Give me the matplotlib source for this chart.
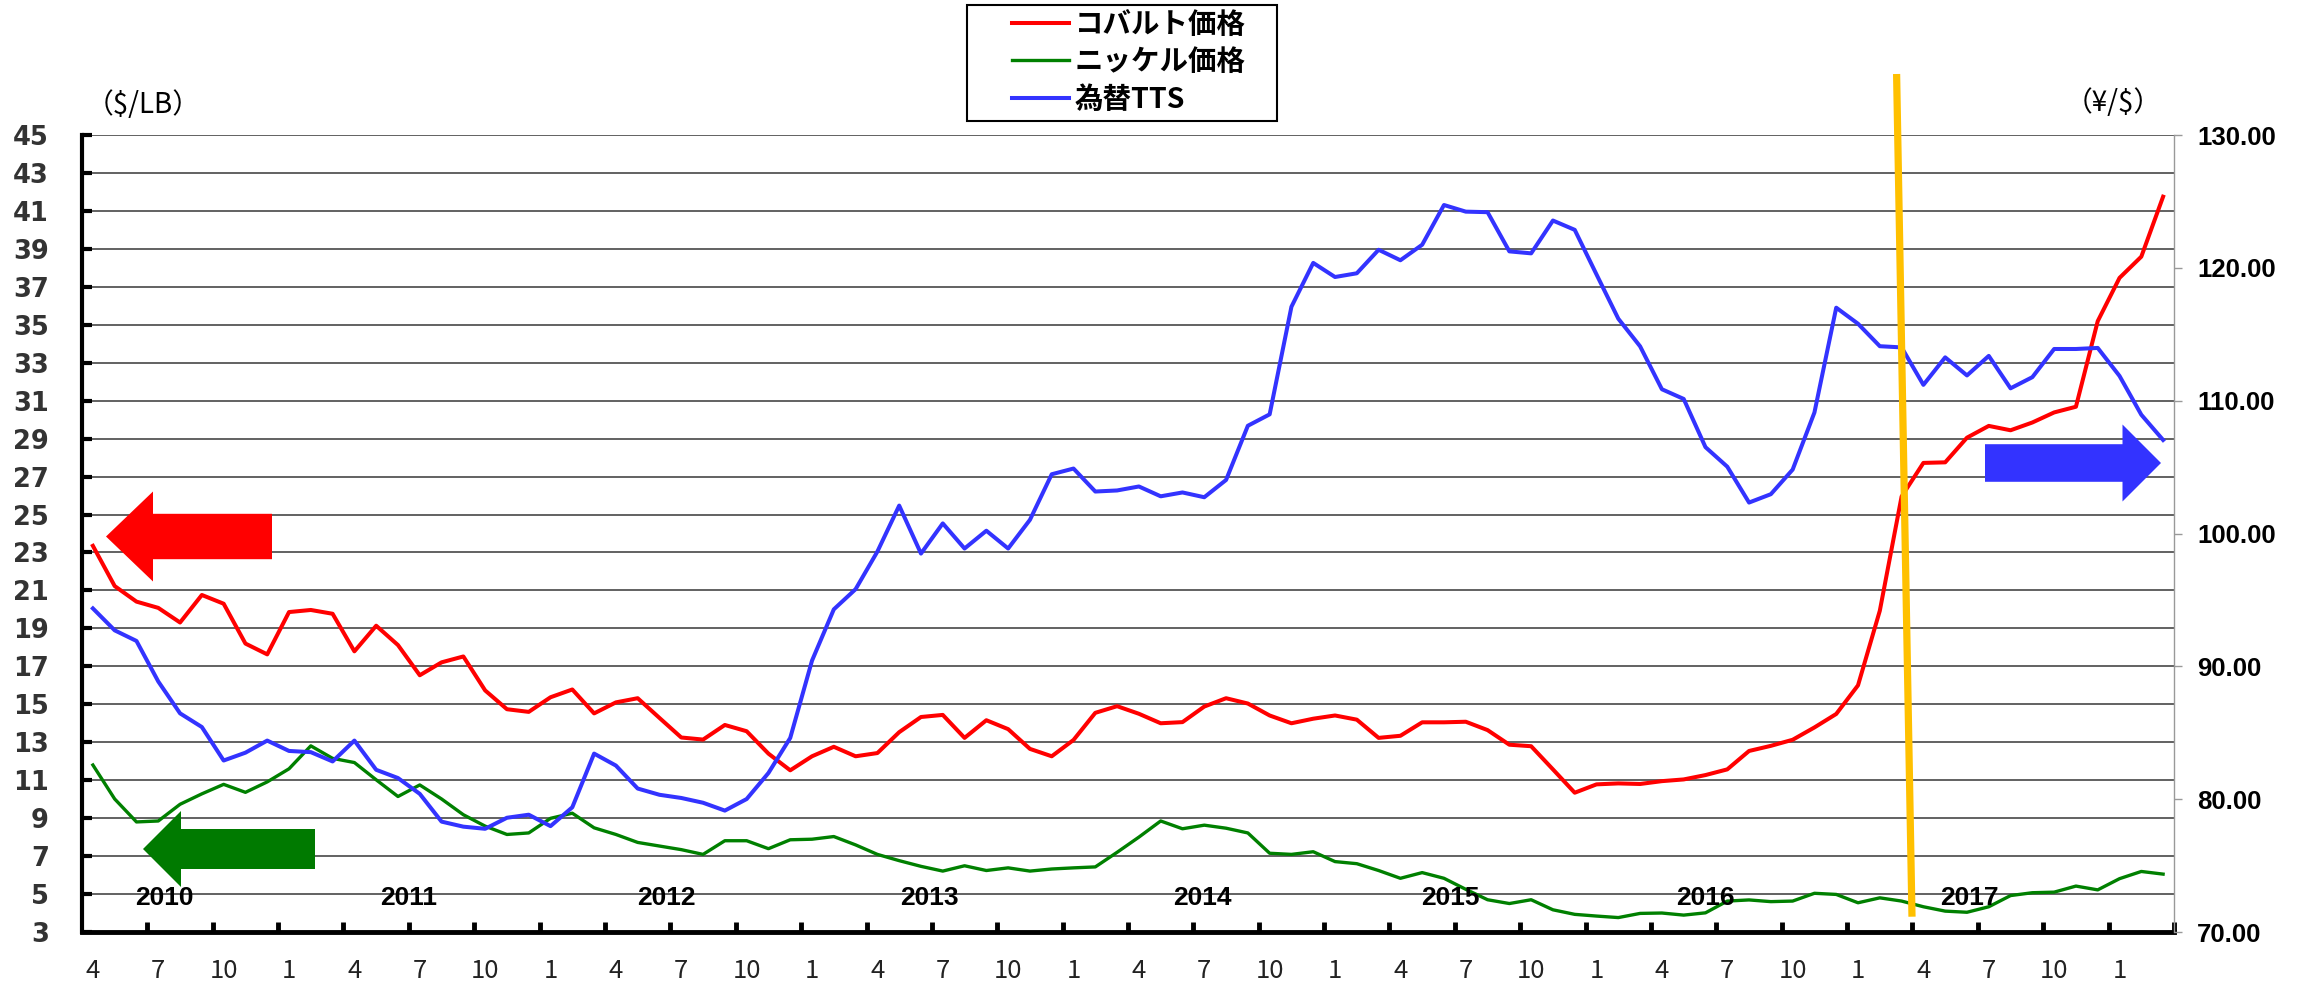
import numpy as np
import matplotlib
matplotlib.use("Agg")
import matplotlib.pyplot as plt
from matplotlib.lines import Line2D
from matplotlib.patches import Polygon, Rectangle
from matplotlib.font_manager import FontProperties

W, H = 2300, 986
JP = ["Noto Sans CJK JP", "DejaVu Sans"]
NARROW = ["Liberation Sans Narrow", "Liberation Sans", "DejaVu Sans"]

# === monthly data, 2010/4 .. 2018/3 ===
cobalt = [23.35, 21.23, 20.41, 20.08, 19.31, 20.76, 20.30, 18.20, 17.63, 19.86,
          19.97, 19.77, 17.79, 19.14, 18.12, 16.53, 17.21, 17.52, 15.73, 14.74,
          14.60, 15.37, 15.78, 14.52, 15.10, 15.32, 14.28, 13.25, 13.14, 13.91,
          13.58, 12.40, 11.52, 12.26, 12.76, 12.26, 12.43, 13.53, 14.33, 14.44,
          13.23, 14.16, 13.69, 12.65, 12.26, 13.12, 14.55, 14.90, 14.50, 14.00,
          14.06, 14.88, 15.32, 15.04, 14.41, 14.00, 14.24, 14.41, 14.19, 13.23,
          13.34, 14.05, 14.05, 14.08, 13.64, 12.87, 12.79, 11.57, 10.34, 10.78,
          10.83, 10.80, 10.95, 11.04, 11.27, 11.57, 12.54, 12.81, 13.13, 13.78,
          14.49, 16.00, 19.93, 25.95, 27.72, 27.75, 29.05, 29.67, 29.44, 29.85,
          30.38, 30.68, 35.19, 37.47, 38.59, 41.75]

nickel = [11.80, 10.01, 8.80, 8.85, 9.73, 10.28, 10.78, 10.36, 10.91, 11.60,
          12.81, 12.15, 11.93, 11.02, 10.14, 10.75, 10.01, 9.18, 8.58, 8.14,
          8.22, 8.99, 9.26, 8.49, 8.14, 7.72, 7.53, 7.34, 7.09, 7.81,
          7.81, 7.39, 7.86, 7.89, 8.03, 7.59, 7.09, 6.76, 6.46, 6.21,
          6.49, 6.24, 6.38, 6.21, 6.32, 6.38, 6.43, 7.20, 8.00, 8.85,
          8.44, 8.63, 8.47, 8.22, 7.15, 7.09, 7.23, 6.71, 6.60, 6.24,
          5.83, 6.13, 5.83, 5.25, 4.70, 4.50, 4.70, 4.17, 3.93, 3.84,
          3.76, 3.98, 4.00, 3.89, 4.01, 4.63, 4.69, 4.60, 4.63, 5.04,
          4.98, 4.54, 4.80, 4.63, 4.33, 4.10, 4.04, 4.33, 4.92, 5.07,
          5.10, 5.42, 5.22, 5.81, 6.19, 6.05]

tts = [94.36, 92.71, 91.91, 88.86, 86.46, 85.43, 82.91, 83.50, 84.41, 83.63,
       83.54, 82.84, 84.41, 82.21, 81.59, 80.40, 78.31, 77.93, 77.77, 78.60,
       78.83, 77.97, 79.39, 83.43, 82.53, 80.80, 80.33, 80.09, 79.73, 79.14,
       80.01, 81.97, 84.61, 90.43, 94.29, 95.81, 98.64, 102.10, 98.49, 100.76,
       98.87, 100.21, 98.87, 101.03, 104.46, 104.89, 103.16, 103.24, 103.54, 102.80,
       103.09, 102.73, 104.03, 108.11, 108.97, 117.07, 120.37, 119.31, 119.59, 121.36,
       120.57, 121.74, 124.73, 124.23, 124.19, 121.24, 121.09, 123.56, 122.86, 119.50,
       116.17, 114.09, 110.86, 110.13, 106.50, 105.03, 102.33, 102.96, 104.81, 109.11,
       117.00, 115.79, 114.10, 114.01, 111.19, 113.26, 111.90, 113.37, 110.93, 111.77,
       113.89, 113.89, 113.97, 111.86, 108.94, 107.04]

month_labels = ["4", "7", "10", "1"] * 8
years = ["2010", "2011", "2012", "2013", "2014", "2015", "2016", "2017"]
year_pos = [3.3, 14.5, 26.3, 38.4, 50.9, 62.3, 74.0, 86.1]
series_names = ["コバルト価格", "ニッケル価格", "為替TTS"]


def px(x, y):
    # pixel (from top-left) -> figure fraction
    return x / W, 1 - y / H


def arrow(fig, tip_x, tip_y, base_x, tail_x, body_h, head_h, color):
    pts = [(tip_x, tip_y), (base_x, tip_y - head_h), (base_x, tip_y - body_h),
           (tail_x, tip_y - body_h), (tail_x, tip_y + body_h),
           (base_x, tip_y + body_h), (base_x, tip_y + head_h)]
    fig.add_artist(Polygon([px(*p) for p in pts], closed=True,
                           transform=fig.transFigure, facecolor=color,
                           edgecolor="none", zorder=5))


fig = plt.figure(figsize=(W / 100, H / 100), dpi=100)
l, b = px(82, 932)
ax = fig.add_axes([l, b, (2174 - 82) / W, (932 - 135) / H])

x = np.arange(len(cobalt))
ax.set_xlim(-0.5, len(cobalt) - 0.5)
ax.set_ylim(3, 45)
red, = ax.plot(x, cobalt, color="#FF0000", lw=2.9, zorder=3)
green, = ax.plot(x, nickel, color="#008000", lw=2.4, zorder=3)

ax2 = ax.twinx()
ax2.set_ylim(70, 130)
blue, = ax2.plot(x, tts, color="#3333FF", lw=2.9, zorder=3)

# left axis
ax.set_yticks(range(3, 46, 2))
ax.yaxis.grid(True, color="#555555", lw=1.3)
ax.set_axisbelow(True)
ax.tick_params(axis="y", direction="in", length=7, width=3, color="black",
               labelsize=18.5, labelcolor="#333333", pad=24)
for t in ax.get_yticklabels():
    t.set_fontweight("bold")

# bottom axis: tick marks between labels
ax.set_xticks(np.arange(2.5, len(cobalt), 3))
ax.set_xticks(np.arange(0, len(cobalt), 3), minor=True)
ax.set_xticklabels(month_labels, minor=True, family=JP, color="#222222")
ax.tick_params(axis="x", which="major", direction="in", length=7, width=3.5,
               labelbottom=False)
ax.tick_params(axis="x", which="minor", length=0, labelsize=18.5, pad=19)

ax.spines["top"].set_visible(False)
ax.spines["right"].set_visible(False)
ax.spines["left"].set_linewidth(3)
ax.spines["bottom"].set_linewidth(3.5)

# right axis
ax2.set_yticks(range(70, 131, 10))
ax2.set_yticklabels([f"{v:.2f}" for v in range(70, 131, 10)],
                    family=NARROW, fontweight="bold")
ax2.tick_params(axis="y", direction="out", length=5.8, width=1, color="#999999",
                labelsize=18.5, labelcolor="black", pad=11)
for s in ("top", "left", "bottom"):
    ax2.spines[s].set_visible(False)
ax2.spines["right"].set_color("#999999")
ax2.spines["right"].set_linewidth(1)

# year labels inside the plot
for yr, xp in zip(years, year_pos):
    ax.text(xp, 4.8, yr, ha="center", va="center", fontsize=19,
            fontweight="bold", family=NARROW[1:], zorder=4)

# unit labels
fig.text(*px(143, 105), "（$/LB）", ha="center", va="center", fontsize=20, family=JP)
fig.text(*px(2113, 103), "（¥/$）", ha="center", va="center", fontsize=20, family=JP)

# legend with a separate rectangular frame
fig.legend([red, green, blue], series_names, loc="upper left",
           bbox_to_anchor=px(1012, 11), frameon=False, borderpad=0,
           borderaxespad=0, handlelength=2.0, handletextpad=0.2,
           labelspacing=0.33,
           prop=FontProperties(family=JP, weight="bold", size=20.5))
fig.add_artist(Rectangle(px(967, 121), 310 / W, 116 / H, transform=fig.transFigure,
                         facecolor="none", edgecolor="black", lw=1.5))

# arrows pointing to the axis each series belongs to
arrow(fig, 106, 536.5, 153, 272, 22.7, 45, "#FF0000")
arrow(fig, 143, 849, 181, 315, 20, 38, "#007A00")
arrow(fig, 2161, 463, 2122.5, 1985, 18.8, 38.5, "#3333FF")

# yellow marker line
fig.add_artist(Line2D([1896.6 / W, 1912 / W], [1 - 74 / H, 1 - 916.7 / H],
                      transform=fig.transFigure, color="#FFC000", lw=5.2,
                      solid_capstyle="butt", zorder=6))

fig.savefig("out.png", dpi=100)
